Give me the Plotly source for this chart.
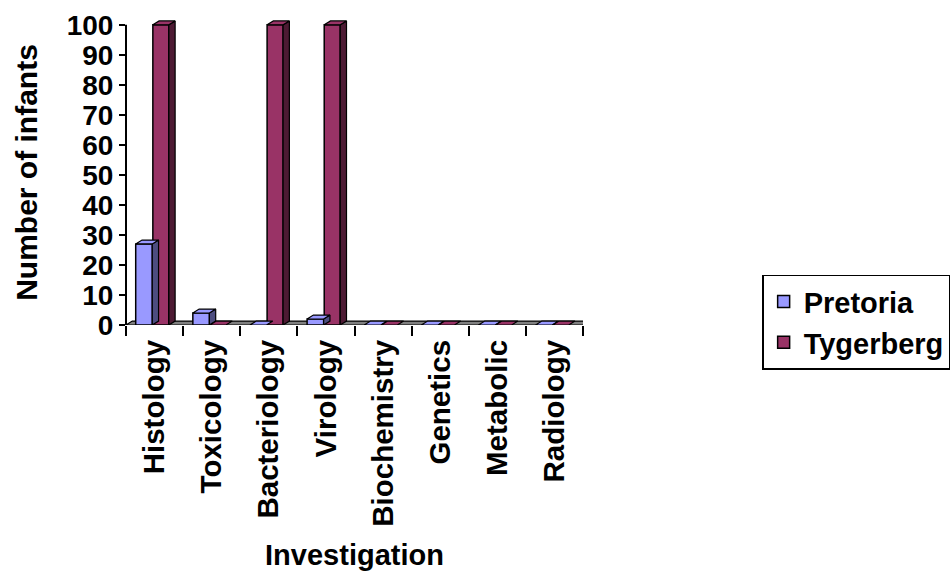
import plotly.graph_objects as go

categories = ["Histology", "Toxicology", "Bacteriology", "Virology",
              "Biochemistry", "Genetics", "Metabolic", "Radiology"]
pretoria = [27, 4, 0, 2, 0, 0, 0, 0]
tygerberg = [100, 0, 100, 100, 0, 0, 0, 0]
y_ticks = list(range(0, 101, 10))

FONT = "Liberation Sans, Arial, sans-serif"
DX, DY = 0.11, 1.3          # pseudo-3D depth (x in category units, y in data units)
Y_TOP = 101.6               # headroom so the top faces of full bars are not clipped
pos = list(range(len(categories)))

series = [
    ("Pretoria", pretoria, -0.33, 0.29, "#9999FF", "#4D4D80"),
    ("Tygerberg", tygerberg, -0.03, 0.28, "#993366", "#4D1A33"),
]

fig = go.Figure()

for name, vals, off, w, front, side in series:
    fig.add_trace(go.Bar(
        x=pos, y=vals, name=name, offset=off, width=w,
        marker=dict(color=front, line=dict(color="black", width=1.5)),
        hoverinfo="skip",
    ))

for name, vals, off, w, front, side in series:
    sx, sy, tx, ty = [], [], [], []
    for p, v in zip(pos, vals):
        xl, xr = p + off, p + off + w
        # right-hand face
        if v > 0:
            sx += [xr, xr + DX, xr + DX, xr, xr, None]
            sy += [0, DY, v + DY, v, 0, None]
        # top face
        tx += [xl, xr, xr + DX, xl + DX, xl, None]
        ty += [v, v, v + DY, v + DY, v, None]
    fig.add_trace(go.Scatter(x=sx, y=sy, mode="lines", fill="toself",
                             fillcolor=side, line=dict(color="black", width=1.2),
                             showlegend=False, hoverinfo="skip"))
    fig.add_trace(go.Scatter(x=tx, y=ty, mode="lines", fill="toself",
                             fillcolor=front, line=dict(color="black", width=1.2),
                             showlegend=False, hoverinfo="skip"))

n = len(categories)
# floor under the bars
fig.add_shape(type="path", layer="below", xref="x", yref="y",
              path=f"M {-0.5} 0 L {n - 0.5} 0 L {n - 0.5 + DX} {DY} L {-0.5 + DX} {DY} Z",
              fillcolor="#808080", line=dict(color="black", width=1.2))
# value axis line, 0 to 100
fig.add_shape(type="line", layer="above", xref="paper", yref="y",
              x0=0, x1=0, y0=0, y1=y_ticks[-1],
              line=dict(color="black", width=2))

fig.update_layout(
    width=950, height=571,
    margin=dict(l=126, r=367, t=20, b=246, autoexpand=False),
    paper_bgcolor="white", plot_bgcolor="white",
    barmode="overlay",
    font=dict(family=FONT, color="black", size=24, weight="bold"),
    showlegend=True,
    legend=dict(
        x=1.392, y=0.165, xanchor="left", yanchor="top",
        font=dict(family=FONT, size=29, weight="bold", color="black"),
        bordercolor="black", borderwidth=1.5, bgcolor="white",
        itemwidth=30, tracegroupgap=0,
    ),
)

fig.update_xaxes(
    range=[-0.5, n - 0.5],
    tickmode="array", tickvals=pos, ticktext=categories,
    tickangle=-90, ticks="", ticklabelstandoff=8,
    tickfont=dict(family=FONT, size=29.5, weight="bold"),
    showline=False, showgrid=False, zeroline=False,
    minor=dict(tickmode="array", tickvals=[i - 0.5 for i in range(n + 1)],
               ticks="outside", ticklen=10, tickwidth=2, tickcolor="black"),
    title=dict(text="Investigation", standoff=18,
               font=dict(family=FONT, size=29, weight="bold")),
)

fig.update_yaxes(
    range=[0, Y_TOP],
    tickmode="array", tickvals=y_ticks,
    ticks="outside", ticklen=6, tickwidth=2, tickcolor="black",
    tickfont=dict(family=FONT, size=28, weight="bold"),
    showline=False, showgrid=False, zeroline=False,
    title=dict(text="Number of infants", standoff=20,
               font=dict(family=FONT, size=30, weight="bold")),
)

fig.write_html("out.html")
